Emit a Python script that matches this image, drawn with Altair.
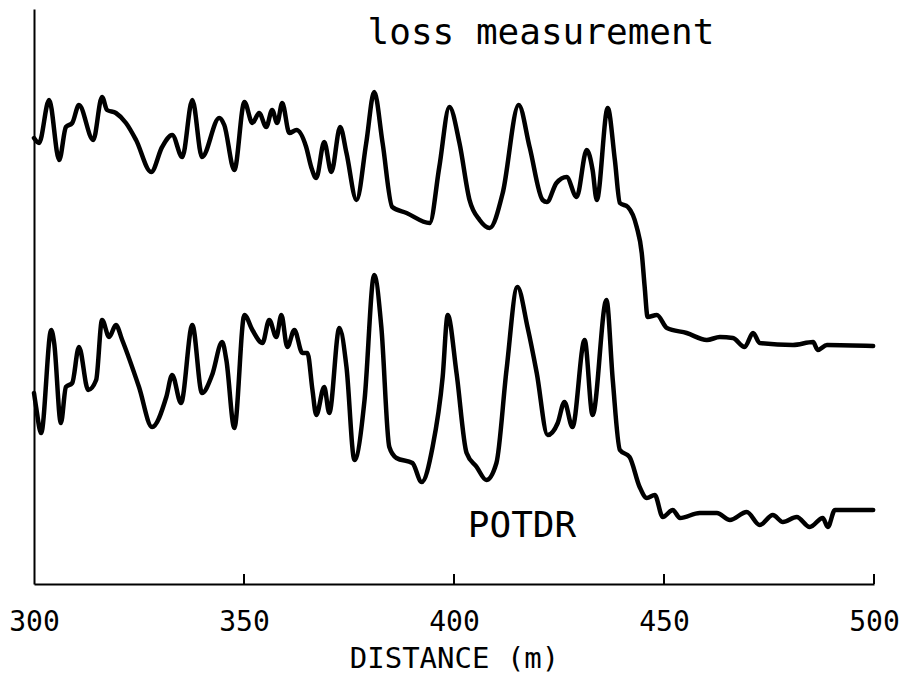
import altair as alt
import pandas as pd

# Upper trace: loss measurement (distance in m, relative level in arbitrary units)
loss_x = [300.0, 301.2, 303.6, 306.0, 307.6, 309.1, 310.7, 314.1, 316.2, 317.4, 319.5, 321.9,
          324.3, 327.9, 330.5, 332.9, 335.3, 337.7, 340.0, 344.1, 345.3, 347.7, 350.1, 352.0,
          353.6, 355.3, 356.7, 357.9, 359.1, 360.8, 362.5, 364.8, 366.0, 367.2, 369.1, 370.8,
          372.9, 374.4, 376.8, 379.1, 381.0, 383.0, 385.3, 388.7, 394.2, 396.5, 398.9, 401.3,
          403.7, 406.1, 408.5, 411.6, 415.4, 418.0, 421.1, 422.1, 424.4, 426.8, 429.2, 431.6,
          433.0, 434.0, 436.6, 438.3, 439.5, 441.4, 443.5, 444.7, 445.4, 446.1, 448.3, 450.7,
          455.4, 460.2, 463.3, 466.4, 469.2, 471.2, 472.8, 480.7, 485.5, 486.6, 488.8, 499.8]
loss_y = [446, 441, 484, 424, 457, 461, 479, 444, 487, 474, 471, 461,
          444, 412, 437, 449, 427, 484, 427, 466, 459, 414, 482, 461,
          471, 457, 474, 461, 481, 451, 454, 437, 417, 406, 442, 412,
          457, 431, 384, 441, 492, 441, 377, 371, 361, 417, 477, 441,
          384, 364, 356, 391, 479, 437, 384, 382, 401, 407, 387, 434,
          414, 384, 476, 424, 381, 377, 357, 331, 297, 267, 269, 256,
          251, 244, 247, 246, 237, 251, 241, 239, 242, 234, 239, 238]

# Lower trace: POTDR
potdr_x = [300.0, 300.5, 301.7, 304.1, 304.8, 306.4, 307.6, 309.1, 310.7, 312.9, 314.8, 316.2,
           317.9, 319.5, 321.0, 325.0, 328.1, 331.5, 332.9, 335.0, 337.7, 340.0, 342.4, 344.8,
           345.8, 347.7, 350.1, 352.0, 354.4, 356.0, 357.7, 358.9, 360.3, 362.0, 363.9, 365.1,
           366.3, 367.2, 369.1, 370.3, 372.7, 374.4, 376.3, 378.7, 381.0, 382.7, 384.6, 386.3,
           390.1, 392.3, 394.9, 397.3, 398.5, 400.6, 403.0, 405.4, 407.7, 410.1, 412.5, 415.1,
           417.5, 419.7, 422.3, 424.7, 426.3, 428.2, 431.1, 433.0, 436.3, 437.8, 439.5, 441.8,
           444.2, 445.9, 447.8, 449.7, 452.1, 453.8, 458.5, 462.6, 465.7, 469.7, 472.8, 475.9,
           478.3, 481.6, 484.7, 487.8, 489.0, 490.7, 499.8]
potdr_y = [191, 177, 151, 254, 241, 161, 197, 201, 237, 194, 204, 264,
           247, 259, 244, 197, 157, 187, 209, 181, 259, 191, 209, 242,
           224, 156, 269, 254, 241, 264, 247, 269, 237, 254, 231, 231,
           194, 169, 197, 171, 256, 217, 124, 184, 309, 257, 137, 126,
           121, 102, 137, 207, 269, 211, 131, 117, 104, 121, 214, 297,
           257, 211, 149, 161, 182, 157, 244, 169, 284, 204, 134, 127,
           97, 86, 89, 67, 74, 66, 71, 71, 64, 72, 59, 69,
           62, 67, 57, 66, 57, 74, 74]

tick_values = [300, 350, 400, 450, 500]
inner_ticks = [350, 400, 450, 500]

label_text = ["loss measurement", "POTDR"]
label_x = [420.7, 416.2]
label_y = [540, 47]

FONT = "DejaVu Sans Mono"

df = pd.concat([
    pd.DataFrame({"distance": loss_x, "level": loss_y, "trace": "loss measurement"}),
    pd.DataFrame({"distance": potdr_x, "level": potdr_y, "trace": "POTDR"}),
])

xscale = alt.Scale(domain=[300, 500], nice=False, zero=False)
yscale = alt.Scale(domain=[0, 575], nice=False, zero=False)

lines = alt.Chart(df).mark_line(
    color="black", strokeWidth=4.5, interpolate="monotone", strokeJoin="round", strokeCap="round"
).encode(
    x=alt.X("distance:Q", scale=xscale,
            axis=alt.Axis(values=tick_values, title="DISTANCE (m)", ticks=False,
                          grid=False, domainColor="black", domainWidth=2,
                          labelFont=FONT, labelFontSize=28, labelColor="black",
                          labelPadding=24, labelFlush=False, labelOverlap=False,
                          titleFont=FONT, titleFontSize=29, titleFontWeight="normal",
                          titleColor="black", titleBaseline="alphabetic", titleY=83)),
    y=alt.Y("level:Q", scale=yscale,
            axis=alt.Axis(labels=False, ticks=False, grid=False, title=None,
                          domainColor="black", domainWidth=2)),
    detail="trace:N",
)

ticks = alt.Chart(pd.DataFrame({"distance": inner_ticks})).mark_rule(
    color="black", strokeWidth=2
).encode(
    x=alt.X("distance:Q", scale=xscale),
    y=alt.value(575),
    y2=alt.value(565),
)

labels = alt.Chart(pd.DataFrame({"text": label_text, "distance": label_x, "level": label_y})).mark_text(
    font=FONT, fontSize=36, color="black", align="center", baseline="alphabetic"
).encode(
    x=alt.X("distance:Q", scale=xscale),
    y=alt.Y("level:Q", scale=yscale),
    text="text:N",
)

chart = alt.layer(lines, ticks, labels).properties(
    width=840, height=575,
    autosize=alt.AutoSizeParams(type="none"),
    padding={"left": 26, "top": 1, "right": 26, "bottom": 94},
).configure_view(stroke=None)

chart.save("out.html", embed_options={"renderer": "svg", "actions": False})
